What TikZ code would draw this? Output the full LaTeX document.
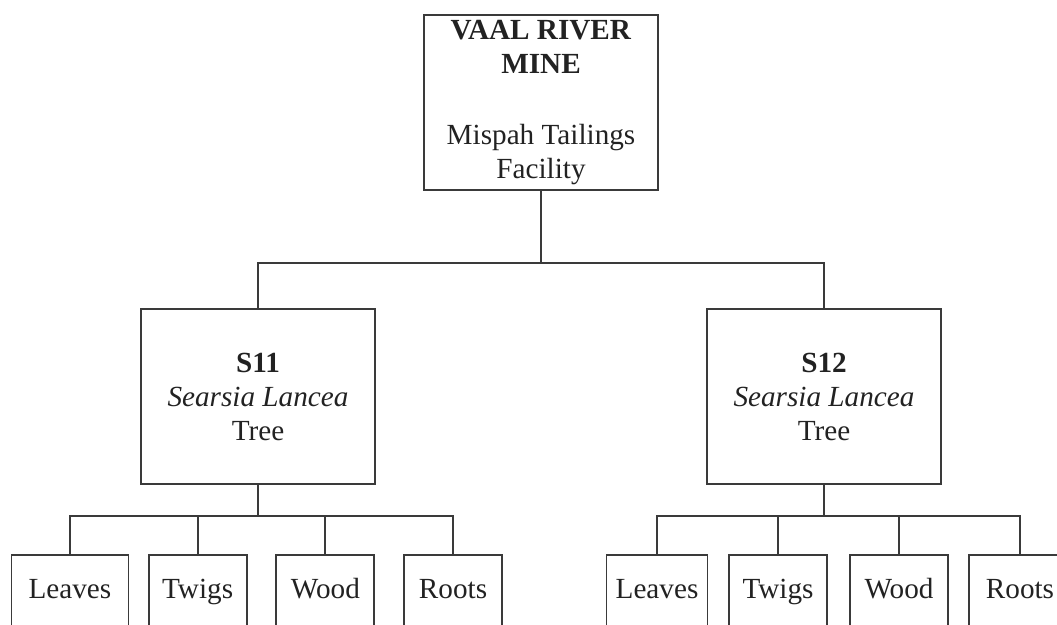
\documentclass[tikz,border=0pt]{standalone}
\usepackage{fontspec}
\setmainfont{Liberation Serif}
\definecolor{linegray}{HTML}{3A3A3A}
\definecolor{textgray}{HTML}{222222}
\tikzset{
  orgbox/.style={draw=linegray, line width=1.8pt, text=textgray, inner sep=0pt,
    font=\fontsize{29.2pt}{34pt}\selectfont},
  bigbox/.style={orgbox, align=center, minimum width=234pt, minimum height=175pt},
  partbox/.style={orgbox, minimum width=98pt, text height=43pt, text depth=60pt},
}
\begin{document}
\begin{tikzpicture}[x=1pt, y=1pt, grow=down,
edge from parent/.style={draw=linegray, line width=1.8pt},
level 1/.style={level distance=294pt, sibling distance=566pt,
  edge from parent path={(\tikzparentnode.south) -- ++(0,-72pt) -| (\tikzchildnode.north)}},
level 2/.style={level distance=210pt,
  edge from parent path={(\tikzparentnode.south) -- ++(0,-31pt) -| (\tikzchildnode.north)}},
]
\useasboundingbox (0,0) rectangle (1057,624);
\clip (0,0) rectangle (1057,624);

\node[bigbox] (mine) at (541,521.5) {\textbf{VAAL RIVER}\\\textbf{MINE}\\[37pt]Mispah Tailings\\Facility}
child {node[bigbox] (s11) {\textbf{S11}\\\textit{Searsia Lancea}\\Tree}
  [sibling distance=127.7pt]
  child[xshift=3.5pt] {node[partbox, minimum width=117pt] (s11leaves) {Leaves}}
  child[xshift=3.5pt] {node[partbox] (s11twigs) {Twigs}}
  child[xshift=3.5pt] {node[partbox] (s11wood) {Wood}}
  child[xshift=3.5pt] {node[partbox] (s11roots) {Roots}}
}
child {node[bigbox] (s12) {\textbf{S12}\\\textit{Searsia Lancea}\\Tree}
  [sibling distance=121pt]
  child[xshift=14.5pt] {node[partbox, minimum width=101pt] (s12leaves) {Leaves}}
  child[xshift=14.5pt] {node[partbox] (s12twigs) {Twigs}}
  child[xshift=14.5pt] {node[partbox] (s12wood) {Wood}}
  child[xshift=14.5pt] {node[partbox, minimum width=102pt] (s12roots) {Roots}}
};
\end{tikzpicture}
\end{document}
